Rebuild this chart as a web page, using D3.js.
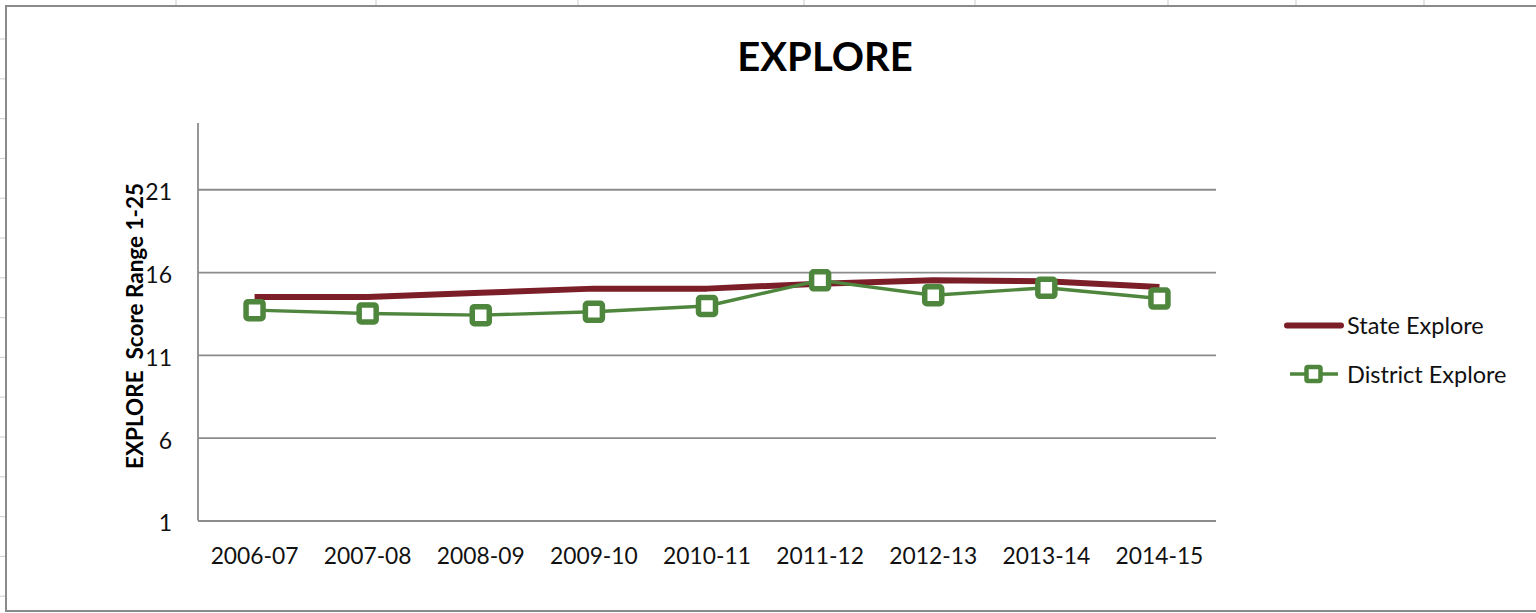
<!DOCTYPE html>
<html>
<head>
<meta charset="utf-8">
<script src="https://cdn.jsdelivr.net/npm/d3@7"></script>
<style>
  html, body { margin: 0; padding: 0; background: #fff; }
  svg { display: block; }
</style>
</head>
<body>
<svg id="chart" width="1536" height="613"></svg>
<script>
// ---- data ----
const categories = ["2006-07","2007-08","2008-09","2009-10","2010-11","2011-12","2012-13","2013-14","2014-15"];
const stateExplore = [14.5, 14.5, 14.75, 15.0, 15.0, 15.3, 15.5, 15.45, 15.1];
const districtExplore = [13.7, 13.5, 13.4, 13.6, 13.95, 15.5, 14.6, 15.05, 14.4];
const yTicks = [1, 6, 11, 16, 21];
const seriesNames = ["State Explore", "District Explore"];
const chartTitle = "EXPLORE";
const yAxisTitle = "EXPLORE  Score Range 1-25";

// ---- layout ----
const W = 1536, H = 613;
const plot = { left: 198, right: 1216, top: 123, bottom: 520.5 };
const stateColor = "#7B1E28";
const districtColor = "#4F863D";
const gridColor = "#8c8c8c";
const font = "Lato, 'Open Sans', sans-serif";

const svg = d3.select("#chart");

// spreadsheet background decoration
const topMarks = [176, 376, 578, 804, 975, 1168, 1296, 1424];
svg.selectAll("line.tm").data(topMarks).join("line")
  .attr("x1", d => d).attr("x2", d => d).attr("y1", 0).attr("y2", 5)
  .attr("stroke", "#d4d4d4").attr("stroke-width", 1.2);
const leftMarks = d3.range(39, 613, 39.8);
svg.selectAll("line.lm").data(leftMarks).join("line")
  .attr("x1", 0).attr("x2", 5).attr("y1", d => d).attr("y2", d => d)
  .attr("stroke", "#d4d4d4").attr("stroke-width", 1.2);

// chart border
svg.append("rect")
  .attr("x", 6).attr("y", 6).attr("width", W + 10).attr("height", 605)
  .attr("fill", "#fff").attr("stroke", "#8a8a8a").attr("stroke-width", 2);

// scales
const x = d3.scaleBand().domain(categories).range([plot.left, plot.right]);
const y = d3.scaleLinear().domain([1, 25]).range([plot.bottom, plot.top]);

// gridlines
const yAxis = d3.axisLeft(y).tickValues(yTicks).tickSize(-(plot.right - plot.left)).tickPadding(26).tickFormat(d3.format("d"));
const gy = svg.append("g").attr("transform", `translate(${plot.left},0)`).call(yAxis);
gy.select(".domain").remove();
gy.selectAll(".tick line").attr("stroke", gridColor).attr("stroke-width", 1.8);
gy.selectAll(".tick text").attr("font-family", font).attr("font-size", 23).attr("fill", "#111")
  .attr("dy", "0.45em");

// vertical axis line
svg.append("line")
  .attr("x1", plot.left).attr("x2", plot.left).attr("y1", plot.top).attr("y2", plot.bottom)
  .attr("stroke", gridColor).attr("stroke-width", 1.8);

// x axis labels
const xAxis = d3.axisBottom(x).tickSize(0).tickPadding(27);
const gx = svg.append("g").attr("transform", `translate(0,${plot.bottom})`).call(xAxis);
gx.select(".domain").remove();
gx.selectAll(".tick text").attr("font-family", font).attr("font-size", 22.8).attr("fill", "#111");

const cx = d => x(d) + x.bandwidth() / 2;

// state line
const seriesLine = d3.line().x((d, i) => cx(categories[i])).y(d => y(d));
svg.append("path").datum(stateExplore)
  .attr("d", seriesLine).attr("fill", "none")
  .attr("stroke", stateColor).attr("stroke-width", 6).attr("stroke-linejoin", "round");

// district line
svg.append("path").datum(districtExplore)
  .attr("d", seriesLine).attr("fill", "none")
  .attr("stroke", districtColor).attr("stroke-width", 3.4).attr("stroke-linejoin", "round");

// district markers
const ms = 17;
svg.selectAll("rect.mk").data(districtExplore).join("rect")
  .attr("x", (d, i) => cx(categories[i]) - ms / 2)
  .attr("y", d => y(d) - ms / 2)
  .attr("width", ms).attr("height", ms).attr("rx", 2)
  .attr("fill", "#fff").attr("stroke", districtColor).attr("stroke-width", 5.5);

// title
svg.append("text")
  .attr("x", 825).attr("y", 71).attr("text-anchor", "middle")
  .attr("font-family", font).attr("font-weight", "bold").attr("font-size", 40).attr("fill", "#000")
  .text(chartTitle);

// y axis title
svg.append("text")
  .attr("transform", `translate(143,${326}) rotate(-90)`)
  .attr("text-anchor", "middle")
  .attr("font-family", font).attr("font-weight", "bold").attr("font-size", 22.5).attr("fill", "#000")
  .attr("xml:space", "preserve").style("white-space", "pre")
  .text(yAxisTitle);

// legend
const lg = svg.append("g");
lg.append("line").attr("x1", 1287).attr("x2", 1341).attr("y1", 325.5).attr("y2", 325.5)
  .attr("stroke", stateColor).attr("stroke-width", 6).attr("stroke-linecap", "round");
lg.append("text").attr("x", 1347).attr("y", 334).attr("font-family", font).attr("font-size", 23.5).attr("fill", "#111")
  .text(seriesNames[0]);
lg.append("line").attr("x1", 1290).attr("x2", 1338).attr("y1", 374).attr("y2", 374)
  .attr("stroke", districtColor).attr("stroke-width", 3.4);
lg.append("rect").attr("x", 1313.5 - 7).attr("y", 374 - 7).attr("width", 14).attr("height", 14).attr("rx", 1.5)
  .attr("fill", "#fff").attr("stroke", districtColor).attr("stroke-width", 4.5);
lg.append("text").attr("x", 1347).attr("y", 383).attr("font-family", font).attr("font-size", 23.5).attr("fill", "#111")
  .text(seriesNames[1]);
</script>
</body>
</html>
